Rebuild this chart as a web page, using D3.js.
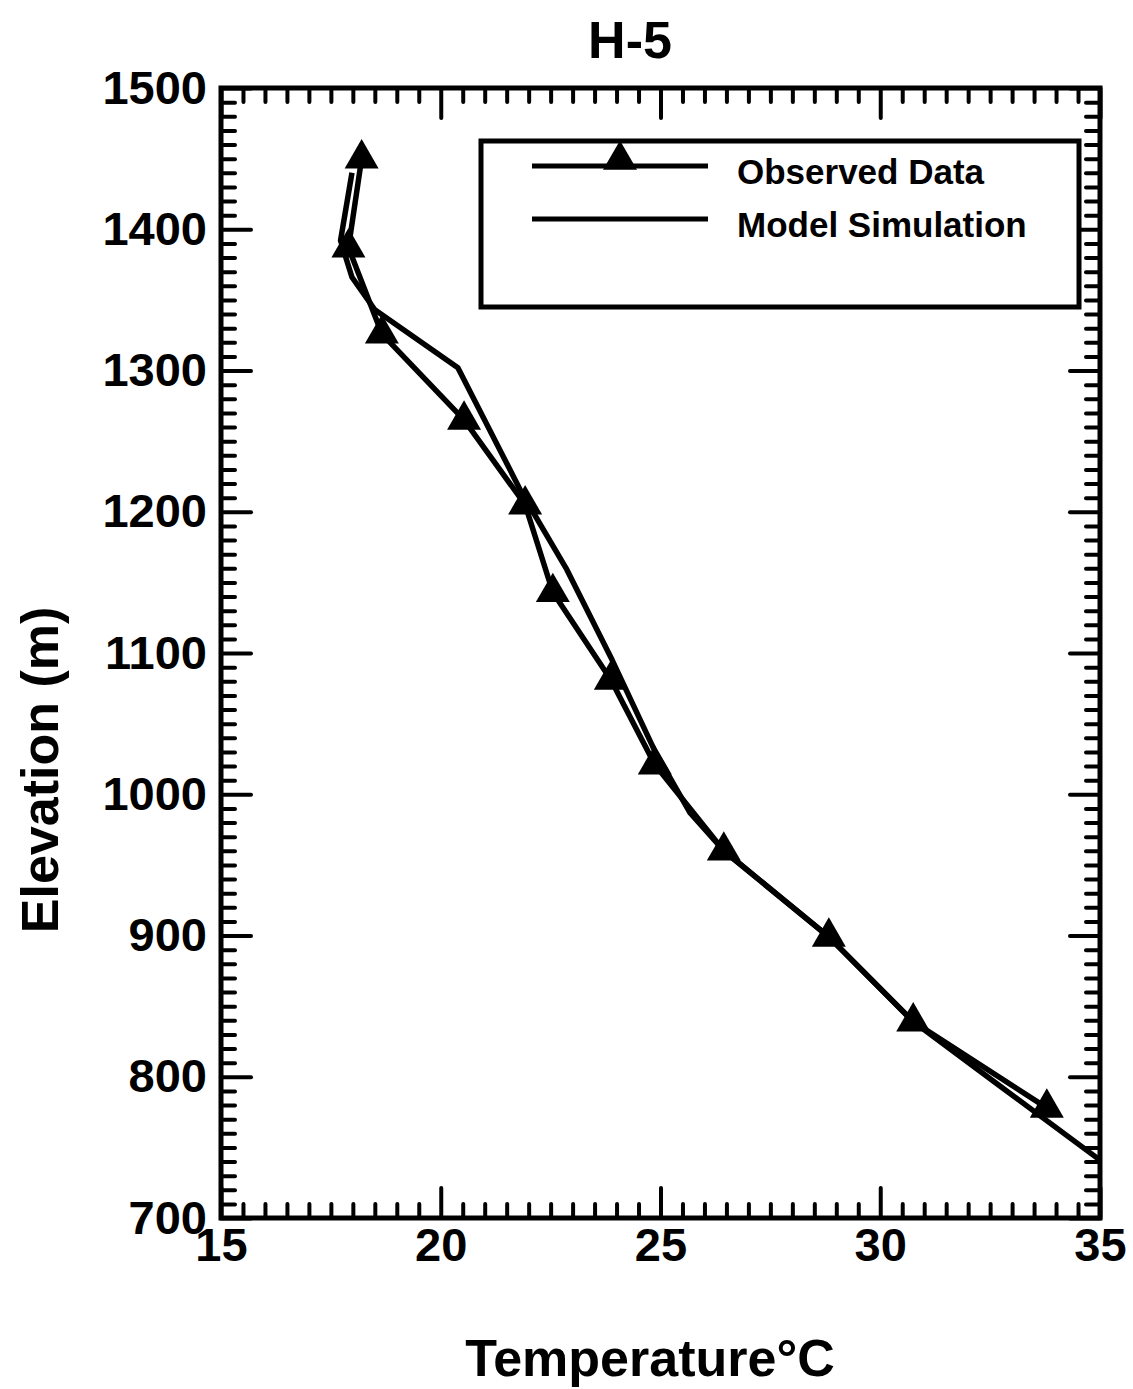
<!DOCTYPE html>
<html>
<head>
<meta charset="utf-8">
<script src="https://cdn.jsdelivr.net/npm/d3@7"></script>
<style>
  html, body { margin: 0; padding: 0; background: #fff; }
  svg text { font-family: "Liberation Sans", Arial, Helvetica, sans-serif; font-weight: bold; fill: #000; }
</style>
</head>
<body>
<svg id="chart" width="1133" height="1389"></svg>
<script>
// ---- data ----
const title = "H-5";
const xLabel = "Temperature°C";
const yLabel = "Elevation (m)";
const xTicks = [15, 20, 25, 30, 35];
const yTicks = [700, 800, 900, 1000, 1100, 1200, 1300, 1400, 1500];
const seriesNames = ["Observed Data", "Model Simulation"];

const obsTemp = [18.2, 17.9, 18.66, 20.53, 21.92, 22.55, 23.87, 24.87, 26.44, 28.83, 30.75, 33.79];
const obsElev = [1450, 1387, 1326, 1265, 1205, 1143, 1081, 1021, 960, 899, 839, 778];

const modTemp = [17.98, 17.72, 17.98, 18.5, 20.39, 21.85, 22.87, 23.9, 24.88, 25.67, 26.44, 28.83, 30.75, 32.7, 35.0];
const modElev = [1440, 1392, 1366, 1343, 1302, 1213, 1159, 1095, 1030, 987, 960, 899, 839, 794, 741];

// ---- layout ----
const svg = d3.select("#chart");
const L = 221, R = 1100, T = 88, B = 1218;
const x = d3.scaleLinear().domain([15, 35]).range([L, R]);
const y = d3.scaleLinear().domain([700, 1500]).range([B, T]);

const xMinor = d3.range(15, 35.001, 0.5).filter(v => !xTicks.includes(v));
const yMinor = d3.range(700, 1500.1, 10).filter(v => !yTicks.includes(v));

function styleAxis(g, withLabels) {
  g.select(".domain").remove();
  g.selectAll(".tick line").attr("stroke", "#000").attr("stroke-width", 4).attr("stroke-linecap", "round");
  if (!withLabels) g.selectAll(".tick text").remove();
  else g.selectAll(".tick text").attr("font-size", 47).style("font-family", '"Liberation Sans", Arial, sans-serif').style("font-weight", "bold").attr("fill", "#000");
}

const majorLen = 30, minorLen = 14;

// bottom
svg.append("g").attr("transform", `translate(0,${B})`)
  .call(d3.axisBottom(x).tickValues(xTicks).tickSize(-majorLen).tickPadding(10).tickFormat(d3.format("d")))
  .call(g => styleAxis(g, true));
svg.append("g").attr("transform", `translate(0,${B})`)
  .call(d3.axisBottom(x).tickValues(xMinor).tickSize(-minorLen))
  .call(g => styleAxis(g, false));
// top
svg.append("g").attr("transform", `translate(0,${T})`)
  .call(d3.axisTop(x).tickValues(xTicks).tickSize(-majorLen))
  .call(g => styleAxis(g, false));
svg.append("g").attr("transform", `translate(0,${T})`)
  .call(d3.axisTop(x).tickValues(xMinor).tickSize(-minorLen))
  .call(g => styleAxis(g, false));
// left
svg.append("g").attr("transform", `translate(${L},0)`)
  .call(d3.axisLeft(y).tickValues(yTicks).tickSize(-majorLen).tickPadding(14).tickFormat(d3.format("d")))
  .call(g => styleAxis(g, true));
svg.append("g").attr("transform", `translate(${L},0)`)
  .call(d3.axisLeft(y).tickValues(yMinor).tickSize(-minorLen))
  .call(g => styleAxis(g, false));
// right
svg.append("g").attr("transform", `translate(${R},0)`)
  .call(d3.axisRight(y).tickValues(yTicks).tickSize(-majorLen))
  .call(g => styleAxis(g, false));
svg.append("g").attr("transform", `translate(${R},0)`)
  .call(d3.axisRight(y).tickValues(yMinor).tickSize(-minorLen))
  .call(g => styleAxis(g, false));

// frame
svg.append("rect").attr("x", L).attr("y", T).attr("width", R - L).attr("height", B - T)
  .attr("fill", "none").attr("stroke", "#000").attr("stroke-width", 5);

// lines
const obs = obsTemp.map((t, i) => ({ t, e: obsElev[i] }));
const mod = modTemp.map((t, i) => ({ t, e: modElev[i] }));
const line = d3.line().x(d => x(d.t)).y(d => y(d.e));

svg.append("path").datum(mod).attr("d", line)
  .attr("fill", "none").attr("stroke", "#000").attr("stroke-width", 5.5).attr("stroke-linejoin", "round");
svg.append("path").datum(obs).attr("d", line)
  .attr("fill", "none").attr("stroke", "#000").attr("stroke-width", 5.5).attr("stroke-linejoin", "round");

const tri = d3.symbol().type(d3.symbolTriangle).size(500);
svg.append("g").selectAll("path").data(obs).join("path")
  .attr("transform", d => `translate(${x(d.t)},${y(d.e)})`)
  .attr("d", tri).attr("fill", "#000");

// legend
const lg = svg.append("g");
lg.append("rect").attr("x", 481).attr("y", 141).attr("width", 598).attr("height", 166)
  .attr("fill", "#fff").attr("stroke", "#000").attr("stroke-width", 5);
lg.append("line").attr("x1", 532).attr("x2", 708).attr("y1", 166).attr("y2", 166)
  .attr("stroke", "#000").attr("stroke-width", 5);
lg.append("path").attr("transform", "translate(620,160)").attr("d", tri).attr("fill", "#000");
lg.append("line").attr("x1", 532).attr("x2", 708).attr("y1", 219).attr("y2", 219)
  .attr("stroke", "#000").attr("stroke-width", 5);
lg.append("text").attr("x", 737).attr("y", 184).attr("font-size", 35).text(seriesNames[0]);
lg.append("text").attr("x", 737).attr("y", 237).attr("font-size", 35).text(seriesNames[1]);

// titles
svg.append("text").attr("x", 630).attr("y", 58).attr("text-anchor", "middle").attr("font-size", 52).text(title);
svg.append("text").attr("x", 650).attr("y", 1376).attr("text-anchor", "middle").attr("font-size", 52).text(xLabel);
svg.append("text").attr("transform", "translate(58,770) rotate(-90)").attr("text-anchor", "middle").attr("font-size", 52).text(yLabel);
</script>
</body>
</html>
